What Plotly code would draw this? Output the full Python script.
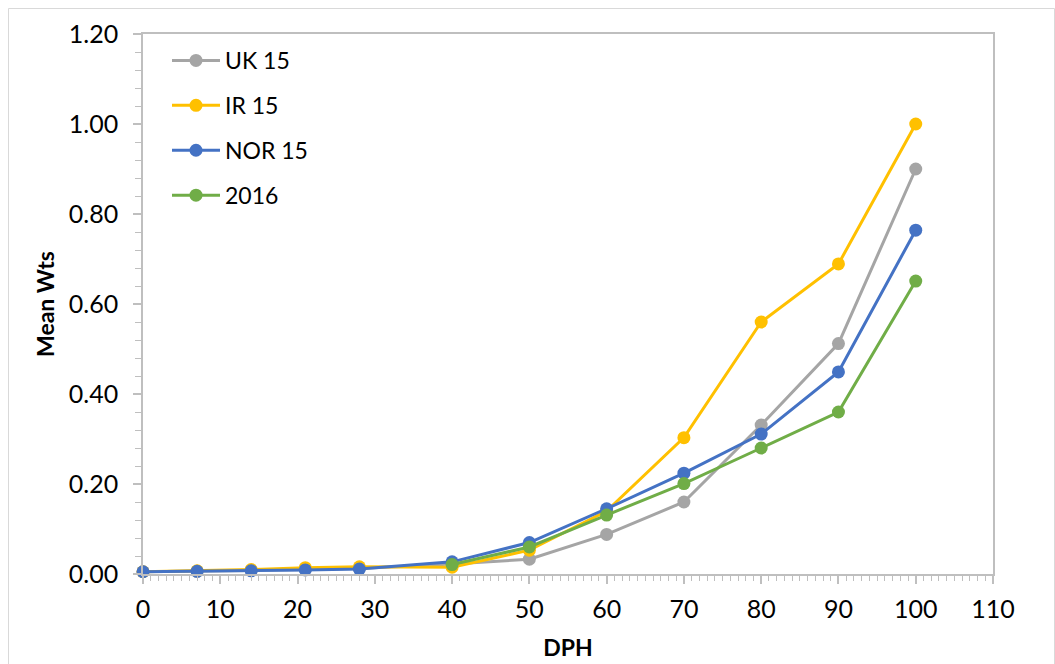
import plotly.graph_objects as go

# Days post hatch and mean weights per group
dph = [0, 7, 14, 21, 28, 40, 50, 60, 70, 80, 90, 100]
dph_2016 = [40, 50, 60, 70, 80, 90, 100]

uk_15 = [0.005, 0.006, 0.008, 0.010, 0.012, 0.022, 0.033, 0.088, 0.160, 0.331, 0.512, 0.900]
ir_15 = [0.005, 0.007, 0.010, 0.014, 0.016, 0.015, 0.053, 0.140, 0.303, 0.560, 0.689, 1.000]
nor_15 = [0.005, 0.006, 0.007, 0.009, 0.011, 0.027, 0.070, 0.145, 0.224, 0.311, 0.449, 0.764]
y_2016 = [0.021, 0.060, 0.131, 0.201, 0.280, 0.360, 0.651]

series = [
    ("UK 15", dph, uk_15, "#A5A5A5"),
    ("IR 15", dph, ir_15, "#FFC000"),
    ("NOR 15", dph, nor_15, "#4472C4"),
    ("2016", dph_2016, y_2016, "#70AD47"),
]

FONT = "Lato, 'Liberation Sans', sans-serif"
AXIS_GREY = "#BFBFBF"

fig = go.Figure()
for name, xs, ys, color in series:
    fig.add_trace(go.Scatter(
        x=xs, y=ys, name=name, mode="lines+markers",
        line=dict(color=color, width=3),
        marker=dict(color=color, size=13),
        legendgroup=name,
        cliponaxis=False,
    ))

W, H = 1055, 664
L, R, T, B = 143, 62, 34, 90
pw, ph = W - L - R, H - T - B


def px_x(p):
    return (p - L) / pw


def px_y(p):
    return (H - B - p) / ph


fig.update_layout(
    width=W, height=H,
    margin=dict(l=L, r=R, t=T, b=B, autoexpand=False),
    paper_bgcolor="white", plot_bgcolor="white",
    font=dict(family=FONT, size=23, color="#000000"),
    showlegend=True,
    legend=dict(
        x=px_x(167), y=px_y(39), xanchor="left", yanchor="top",
        bgcolor="rgba(0,0,0,0)", font=dict(size=23),
        tracegroupgap=12, itemwidth=48,
    ),
    xaxis=dict(
        range=[0, 110], dtick=10, tick0=0, automargin=False,
        showgrid=False, zeroline=False,
        showline=True, linecolor=AXIS_GREY, linewidth=1.5, mirror=True,
        ticks="outside", ticklen=8, tickcolor=AXIS_GREY, tickwidth=1.5,
        minor=dict(dtick=1, ticks="outside", ticklen=5, tickcolor=AXIS_GREY, tickwidth=1),
        tickfont=dict(size=25),
        ticklabelstandoff=4,
        title=dict(text="<b>DPH</b>", font=dict(size=23), standoff=18),
    ),
    yaxis=dict(
        range=[0, 1.2], dtick=0.2, tick0=0, tickformat=".2f", automargin=False,
        showgrid=False, zeroline=False,
        showline=True, linecolor=AXIS_GREY, linewidth=1.5, mirror=True,
        ticks="outside", ticklen=8, tickcolor=AXIS_GREY, tickwidth=1.5,
        minor=dict(dtick=0.04, ticks="outside", ticklen=6, tickcolor=AXIS_GREY, tickwidth=1),
        tickfont=dict(size=25),
        ticklabelstandoff=10,
        title=dict(text="<b>Mean Wts</b>", font=dict(size=23), standoff=8),
    ),
    shapes=[dict(
        type="rect", xref="paper", yref="paper",
        x0=px_x(8.5), x1=px_x(1054.5), y0=px_y(665), y1=px_y(8.5),
        line=dict(color="#D9D9D9", width=1), fillcolor="rgba(0,0,0,0)",
        layer="below",
    )],
)

fig.write_html("out.html")
